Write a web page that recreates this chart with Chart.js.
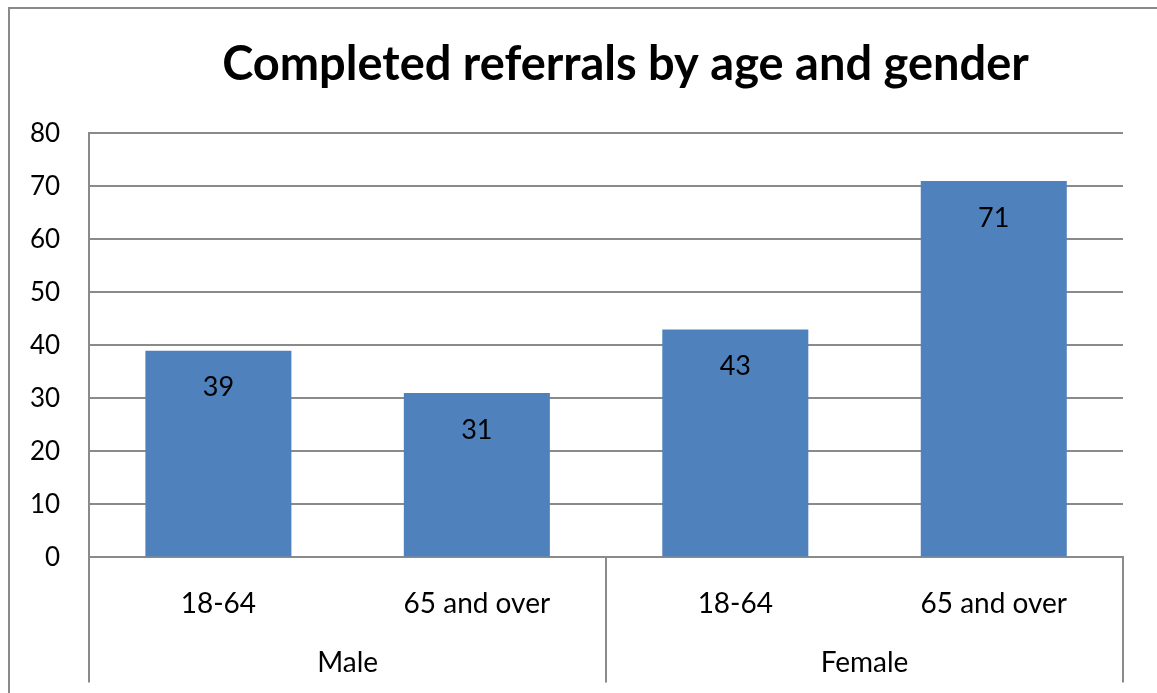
<!DOCTYPE html>
<html>
<head>
<meta charset="utf-8">
<script src="https://cdn.jsdelivr.net/npm/chart.js@4.4.1/dist/chart.umd.min.js"></script>
<style>
  html, body { margin: 0; padding: 0; background: #fff; overflow: hidden; }
  #moldura { position: absolute; left: 8px; top: 7px; width: 2000px; height: 2000px;
    border-left: 2px solid #8a8a8a; border-top: 2px solid #8a8a8a; pointer-events: none; }
  #grafico { position: absolute; left: 0; top: 0; }
</style>
</head>
<body>
<canvas id="grafico" width="1250" height="710"></canvas>
<div id="moldura"></div>
<script>
const titulo = 'Completed referrals by age and gender'
const faixas = ['18-64', '65 and over', '18-64', '65 and over']
const generos = ['Male', 'Female']
const valores = [39, 31, 43, 71]
const eixoY = { min: 0, max: 80, passo: 10 }

const cinza = '#8a8a8a'
const fonte = 'Lato, Carlito, "Open Sans", sans-serif'

// rótulos de valor dentro da barra, perto do topo
const rotulosBarras = {
  id: 'rotulosBarras',
  afterDatasetsDraw(chart) {
    const ctx = chart.ctx
    const meta = chart.getDatasetMeta(0)
    ctx.save()
    ctx.font = '27px ' + fonte
    ctx.fillStyle = '#000'
    ctx.textAlign = 'center'
    ctx.textBaseline = 'middle'
    meta.data.forEach(function(barra, i) {
      ctx.fillText(String(valores[i]), barra.x, barra.y + 37)
    })
    ctx.restore()
  }
}

new Chart(document.getElementById('grafico'), {
  type: 'bar',
  data: {
    labels: faixas,
    datasets: [{
      data: valores,
      backgroundColor: '#4F81BD',
      borderWidth: 0,
      categoryPercentage: 1,
      barPercentage: 0.565
    }]
  },
  options: {
    responsive: false,
    animation: false,
    layout: { padding: { left: 1, right: 0, top: 0, bottom: 0 } },
    plugins: {
      legend: { display: false },
      tooltip: { enabled: false },
      title: {
        display: true,
        text: titulo,
        color: '#000',
        font: { family: fonte, size: 47, weight: 'bold' },
        padding: { top: 37, bottom: 40 }
      }
    },
    scales: {
      // eixo só com as linhas que separam os grupos
      x: {
        offset: true,
        grid: {
          offset: true,
          drawOnChartArea: false,
          tickLength: 125,
          lineWidth: 2,
          color: function(c) {
            return (c.index === undefined || c.index % 2 === 0) ? cinza : 'rgba(0,0,0,0)'
          }
        },
        border: { color: cinza, width: 2 },
        ticks: { display: false },
        afterFit: function(s) { s.height = 0 }
      },
      xFaixa: {
        type: 'category',
        position: 'bottom',
        labels: faixas,
        offset: true,
        grid: { display: false, drawTicks: false },
        border: { display: false },
        ticks: { color: '#000', font: { family: fonte, size: 28 }, padding: 30, maxRotation: 0, autoSkip: false },
        afterFit: function(s) { s.height = 59 }
      },
      xGenero: {
        type: 'category',
        position: 'bottom',
        labels: generos,
        offset: true,
        grid: { display: false, drawTicks: false },
        border: { display: false },
        ticks: { color: '#000', font: { family: fonte, size: 28 }, padding: 30, maxRotation: 0, autoSkip: false }
      },
      y: {
        min: eixoY.min,
        max: eixoY.max,
        grid: { color: cinza, lineWidth: 2, drawTicks: false },
        border: { color: cinza, width: 2 },
        ticks: { stepSize: eixoY.passo, color: '#000', font: { family: fonte, size: 26 }, padding: 29 }
      },
      // margem vazia à direita (o título continua centrado no quadro inteiro)
      margemDireita: {
        type: 'linear',
        axis: 'y',
        position: 'right',
        grid: { display: false, drawTicks: false },
        border: { display: false },
        ticks: { display: false },
        afterFit: function(s) { s.width = 127 }
      }
    }
  },
  plugins: [rotulosBarras]
})
</script>
</body>
</html>
